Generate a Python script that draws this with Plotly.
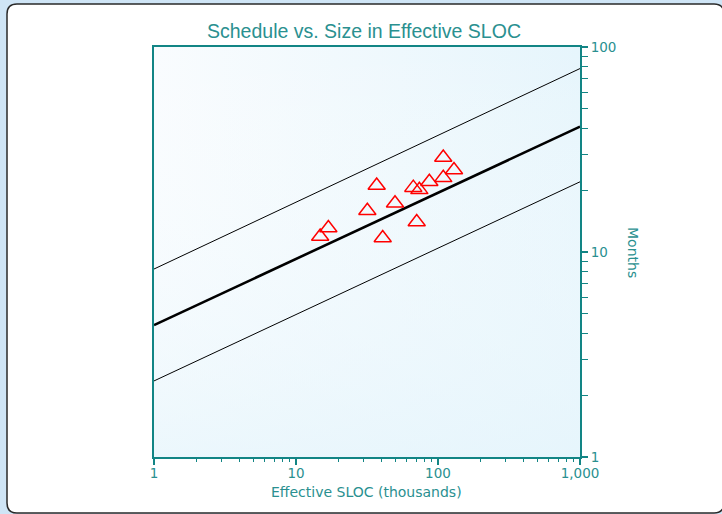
import plotly.graph_objects as go

# ---- data ----
sloc_k = [14.8, 16.9, 31.8, 37.0, 40.8, 49.8, 67.0, 70.8, 73.9, 86.9, 108.9, 108.9, 129.6]
months = [11.9, 13.1, 15.9, 21.1, 11.7, 17.3, 20.6, 14.0, 20.1, 22.0, 28.9, 23.0, 25.1]

trend_x = [1, 1000]
trend_upper = [8.26, 78.5]
trend_mid = [4.4, 40.9]
trend_lower = [2.35, 22.0]

x_tickvals = [1, 10, 100, 1000]
x_ticktext = ["1", "10", "100", "1,000"]
y_tickvals = [1, 10, 100]
y_ticktext = ["1", "10", "100"]
x_minor = [m * d for d in (1, 10, 100) for m in range(2, 10)]
y_minor = [m * d for d in (1, 10) for m in range(2, 10)]

TEAL = "#128585"
TEXT = "#2a9090"
FONT = "DejaVu Sans"

W, H = 722, 514
L, R, T, B = 154, 580, 47, 457


def px(x):
    return (x - L) / (R - L)


def py(y):
    return (B - y) / (B - T)


fig = go.Figure()

# plot-area gradient background
fig.add_trace(go.Scatter(
    x=[1, 1000, 1000, 1, 1], y=[1, 1, 100, 100, 1], mode="lines",
    line=dict(width=0), fill="toself", hoverinfo="skip", showlegend=False,
    fillgradient=dict(type="horizontal",
                      colorscale=[[0, "#f9fcfe"], [1, "#e6f5fc"]]),
))
fig.add_trace(go.Scatter(
    x=[1, 1000, 1000, 1, 1], y=[1, 1, 100, 100, 1], mode="lines",
    line=dict(width=0), fill="toself", hoverinfo="skip", showlegend=False,
    fillgradient=dict(type="vertical",
                      colorscale=[[0, "rgba(230,245,252,0.7)"],
                                  [1, "rgba(255,255,255,0)"]]),
))

for yv, w in ((trend_upper, 1), (trend_mid, 2.6), (trend_lower, 1)):
    fig.add_trace(go.Scatter(x=trend_x, y=yv, mode="lines",
                             line=dict(color="black", width=w),
                             showlegend=False, hoverinfo="skip"))

fig.add_trace(go.Scatter(
    x=sloc_k, y=months, mode="markers", showlegend=False,
    marker=dict(symbol="triangle-up-open", size=15, color="#ff0000",
                line=dict(color="#ff0000", width=1.5)),
))

# white rounded panel
x0, x1, y0, y1, r = 7, 724, 4, 513, 10
path = (f"M {px(x0 + r)},{py(y0)} L {px(x1 - r)},{py(y0)} "
        f"Q {px(x1)},{py(y0)} {px(x1)},{py(y0 + r)} "
        f"L {px(x1)},{py(y1 - r)} Q {px(x1)},{py(y1)} {px(x1 - r)},{py(y1)} "
        f"L {px(x0 + r)},{py(y1)} Q {px(x0)},{py(y1)} {px(x0)},{py(y1 - r)} "
        f"L {px(x0)},{py(y0 + r)} Q {px(x0)},{py(y0)} {px(x0 + r)},{py(y0)} Z")
fig.add_shape(type="path", path=path, xref="paper", yref="paper",
              fillcolor="white", line=dict(color="#2a2a2a", width=1.5),
              layer="below")

fig.update_xaxes(
    type="log", range=[0, 3], tickmode="array", tickvals=x_tickvals,
    ticktext=x_ticktext, ticks="outside", ticklen=6, tickwidth=1.5,
    tickcolor=TEAL, showline=True, linecolor=TEAL, linewidth=2, mirror=True,
    showgrid=False, zeroline=False, ticklabelstandoff=-3,
    tickfont=dict(family=FONT, size=13.5, color=TEXT),
    minor=dict(tickmode="array", tickvals=x_minor, ticks="outside",
               ticklen=3, tickwidth=1, tickcolor=TEAL, showgrid=False),
)
fig.update_yaxes(
    type="log", range=[0, 2], side="right", tickmode="array",
    tickvals=y_tickvals, ticktext=y_ticktext, ticks="outside", ticklen=6,
    tickwidth=1.5, tickcolor=TEAL, showline=True, linecolor=TEAL,
    linewidth=2, mirror=True, showgrid=True, gridcolor="#a0a0a0",
    gridwidth=1, zeroline=False, ticklabelstandoff=0,
    tickfont=dict(family=FONT, size=13.5, color=TEXT),
    minor=dict(tickmode="array", tickvals=y_minor, ticks="outside",
               ticklen=6, tickwidth=1, tickcolor=TEAL, showgrid=False),
)

fig.add_annotation(text="Schedule vs. Size in Effective SLOC", xref="paper",
                   yref="paper", x=px(364), y=py(31), showarrow=False,
                   xanchor="center", yanchor="middle",
                   font=dict(family="Liberation Sans", size=19.5, color=TEXT))
fig.add_annotation(text="Effective SLOC (thousands)", xref="paper",
                   yref="paper", x=px(366), y=py(492), showarrow=False,
                   xanchor="center", yanchor="middle",
                   font=dict(family=FONT, size=14, color=TEXT))
fig.add_annotation(text="Months", xref="paper", yref="paper", x=px(633),
                   y=py(252), showarrow=False, textangle=90,
                   xanchor="center", yanchor="middle",
                   font=dict(family=FONT, size=14, color=TEXT))

fig.update_layout(
    width=W, height=H, margin=dict(l=L, r=W - R, t=T, b=H - B),
    paper_bgcolor="#cfe5f6", plot_bgcolor="rgba(0,0,0,0)",
    showlegend=False,
)

fig.write_html("out.html")
